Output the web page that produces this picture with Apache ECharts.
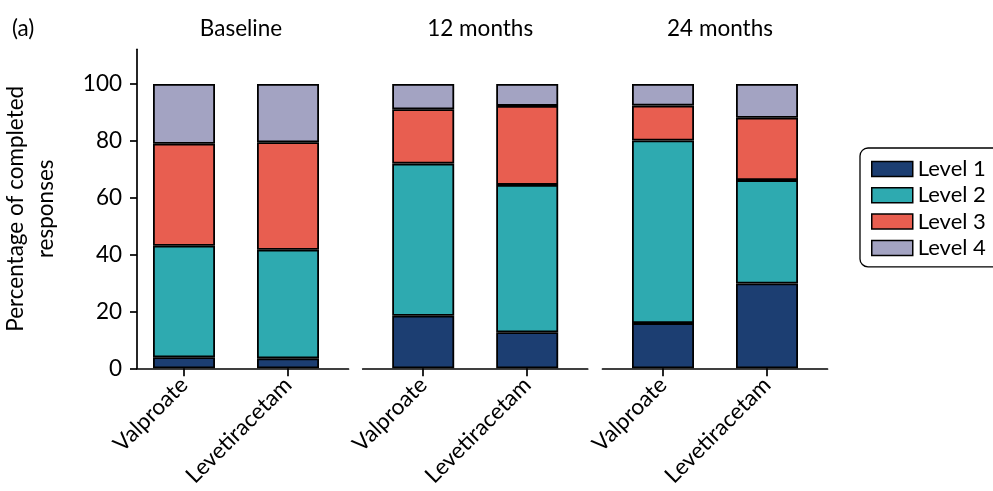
<!DOCTYPE html>
<html>
<head>
<meta charset="utf-8">
<script src="https://cdn.jsdelivr.net/npm/echarts@6/dist/echarts.min.js"></script>
<style>html,body{margin:0;padding:0;background:#fff;overflow:hidden}#c{width:993px;height:491px}</style>
</head>
<body>
<div id="c"></div>
<script>
const panels = ['Baseline', '12 months', '24 months'];
const categories = ['Valproate', 'Levetiracetam'];
const levels = ['Level 1', 'Level 2', 'Level 3', 'Level 4'];
// values per panel: [Valproate, Levetiracetam]
const level1 = [[3.9, 3.5], [18.5, 12.7], [15.9, 29.8]];
const level2 = [[39.2, 38.2], [53.5, 51.8], [64.2, 36.4]];
const level3 = [[35.9, 37.8], [19.1, 27.8], [12.3, 21.9]];
const level4 = [[21.0, 20.5], [8.9, 7.7], [7.6, 11.9]];
const yTicks = [0, 20, 40, 60, 80, 100];

const levelData = [level1, level2, level3, level4];
const colors = ['#1c3e72', '#2eaab0', '#e85e50', '#a3a3c2'];
const FONT = 'Lato';
const FS = 22.5;
const gridLefts = [123.5, 362.7, 602.5];
const gridW = 225;
const inset = 8.5;
const TOP = 49.3, H = 319, YMAX = 112.2;

const grids = [], xAxes = [], yAxes = [], series = [], titles = [];
panels.forEach((p, i) => {
  // axis-line grid (full width)
  const ga = grids.length;
  grids.push({left: gridLefts[i], width: gridW, top: TOP, height: H});
  xAxes.push({
    type: 'value', gridIndex: ga, min: 0, max: 1,
    axisLine: {show: true, onZero: false, lineStyle: {color: '#000', width: 1.7}},
    axisTick: {show: false}, axisLabel: {show: false}, splitLine: {show: false}
  });
  yAxes.push({
    type: 'value', gridIndex: ga, min: 0, max: YMAX,
    show: i === 0,
    name: i === 0 ? 'Percentage of completed\nresponses' : '',
    nameLocation: 'middle', nameGap: 76, nameRotate: 90,
    nameTextStyle: {fontFamily: FONT, fontSize: FS, color: '#000', lineHeight: 30},
    axisLine: {show: true, onZero: false, lineStyle: {color: '#000', width: 1.7}},
    axisTick: {show: true, customValues: yTicks, length: 7, lineStyle: {color: '#000', width: 1.7}},
    axisLabel: {customValues: yTicks, margin: 15, fontFamily: FONT, fontSize: FS, color: '#000'},
    splitLine: {show: false}
  });
  // bar grid (inset)
  const gb = grids.length;
  grids.push({left: gridLefts[i] + inset, width: gridW - 2 * inset, top: TOP, height: H});
  xAxes.push({
    type: 'category', gridIndex: gb, data: categories,
    axisLine: {show: false, onZero: false},
    axisTick: {show: true, alignWithLabel: true, length: 8, lineStyle: {color: '#000', width: 1.7}},
    axisLabel: {rotate: 45, margin: 13, fontFamily: FONT, fontSize: FS, color: '#000'},
    splitLine: {show: false}
  });
  yAxes.push({type: 'value', gridIndex: gb, min: 0, max: YMAX, show: false});
  titles.push({
    text: p, left: gridLefts[i] + gridW / 2, top: 12, textAlign: 'center',
    textStyle: {fontFamily: FONT, fontSize: FS, fontWeight: 'normal', color: '#000'}
  });
  levels.forEach((lv, k) => {
    series.push({
      name: lv, type: 'bar', xAxisIndex: gb, yAxisIndex: gb, stack: 'p' + i,
      barWidth: 62,
      itemStyle: {color: colors[k], borderColor: '#000', borderWidth: 1.8},
      data: levelData[k][i]
    });
  });
});
titles.push({
  text: '(a)', left: 7, top: 12,
  textStyle: {fontFamily: FONT, fontSize: FS, fontWeight: 'normal', color: '#000'}
});

const chart = echarts.init(document.getElementById('c'), null, {renderer: 'canvas'});
chart.setOption({
  animation: false,
  backgroundColor: '#fff',
  title: titles,
  grid: grids,
  xAxis: xAxes,
  yAxis: yAxes,
  legend: {
    data: levels.map(n => ({name: n, icon: 'rect'})),
    orient: 'vertical', left: 860, top: 148,
    itemWidth: 41, itemHeight: 15, itemGap: 4.3, itemTextGap: 8,
    padding: [10, 20, 8, 11],
    borderColor: '#000', borderWidth: 1.3, borderRadius: 8,
    textStyle: {fontFamily: FONT, fontSize: 22, lineHeight: 22, color: '#000'},
    itemStyle: {borderColor: '#000', borderWidth: 1.5}
  },
  series: series
});
</script>
</body>
</html>
